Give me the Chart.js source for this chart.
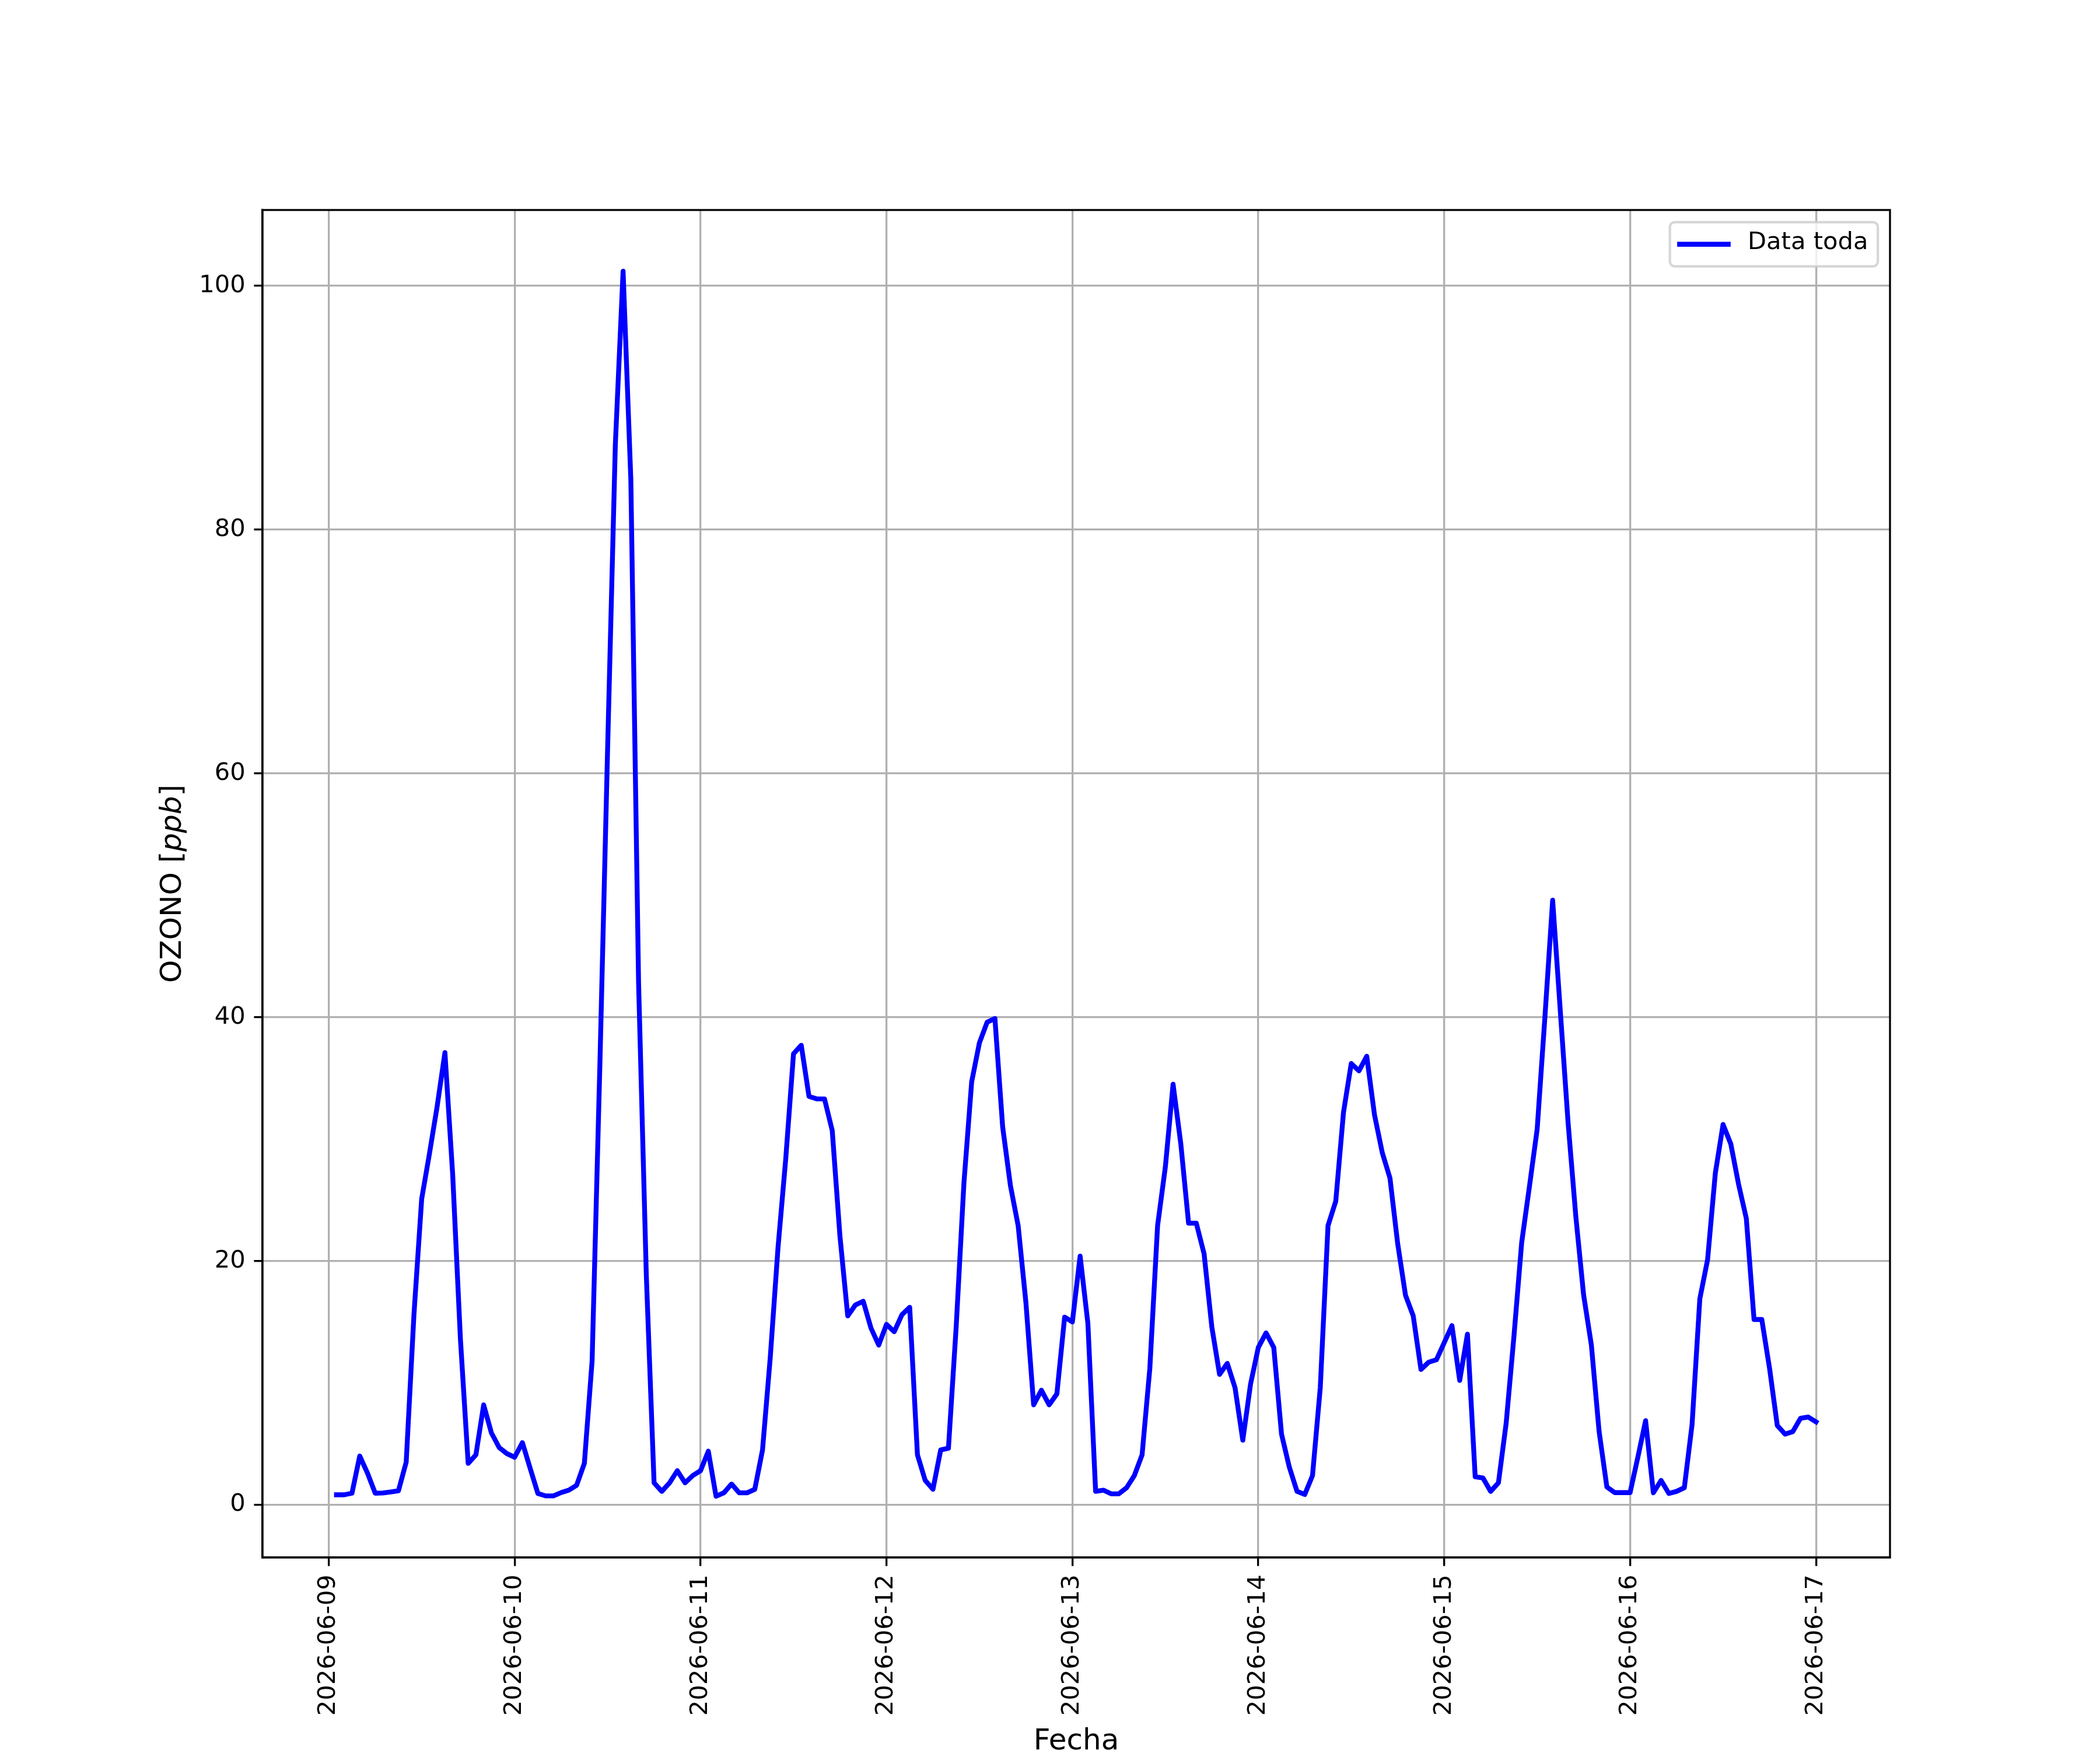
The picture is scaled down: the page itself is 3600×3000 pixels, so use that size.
<!DOCTYPE html>
<html>
<head>
<meta charset="utf-8">
<title>Ozono</title>
<script src="https://cdn.jsdelivr.net/npm/chart.js@4.4.1/dist/chart.umd.min.js"></script>
<style>
  html, body { margin: 0; padding: 0; background: #fff; }
  #wrap { width: 3600px; height: 3000px; }
</style>
</head>
<body>
<div id="wrap"><canvas id="ozonoChart" width="3600" height="3000"></canvas></div>
<script>
// tick labels on the x axis (one per day, midnight)
const dayLabels = ["2026-06-09", "2026-06-10", "2026-06-11", "2026-06-12", "2026-06-13",
                   "2026-06-14", "2026-06-15", "2026-06-16", "2026-06-17"];
const yTickValues = [0, 20, 40, 60, 80, 100];
const seriesLabel = "Data toda";

// hourly ozone [ppb], each row = 01:00 .. 24:00 of that day
const ozono0609 = [0.82, 0.82, 0.95, 4.0, 2.6, 0.95, 0.97, 1.05, 1.15, 3.5, 15.6, 25.1,
                   28.8, 32.7, 37.1, 27.1, 13.6, 3.4, 4.1, 8.2, 5.9, 4.7, 4.2, 3.9];
const ozono0610 = [5.1, 3.0, 0.93, 0.73, 0.73, 1.0, 1.2, 1.6, 3.4, 11.8, 36, 62,
                   87, 101.2, 84.1, 42.8, 18.8, 1.8, 1.1, 1.8, 2.8, 1.8, 2.4, 2.8];
const ozono0611 = [4.4, 0.7, 0.98, 1.7, 0.98, 0.98, 1.27, 4.5, 12.1, 21.1, 28.4, 37.0,
                   37.7, 33.5, 33.3, 33.3, 30.7, 22.0, 15.5, 16.4, 16.7, 14.5, 13.1, 14.8];
const ozono0612 = [14.2, 15.6, 16.2, 4.1, 2.0, 1.27, 4.5, 4.64, 14.6, 26.4, 34.7, 37.9,
                   39.6, 39.9, 31.0, 26.2, 22.9, 16.6, 8.2, 9.4, 8.2, 9.1, 15.4, 15.0];
const ozono0613 = [20.4, 14.9, 1.1, 1.2, 0.9, 0.9, 1.4, 2.4, 4.1, 11.2, 22.9, 27.7,
                   34.5, 29.6, 23.1, 23.1, 20.6, 14.6, 10.7, 11.6, 9.6, 5.3, 9.9, 12.9];
const ozono0614 = [14.1, 12.9, 5.8, 3.1, 1.1, 0.85, 2.4, 9.6, 22.9, 24.9, 32.2, 36.2,
                   35.6, 36.8, 32.0, 28.9, 26.8, 21.4, 17.2, 15.5, 11.1, 11.7, 11.9, 13.3];
const ozono0615 = [14.7, 10.2, 14.0, 2.3, 2.2, 1.1, 1.8, 6.7, 13.8, 21.5, 26.1, 30.8,
                   40.0, 49.6, 40.4, 31.3, 23.6, 17.2, 13.1, 6.0, 1.46, 1.0, 1.0, 1.0];
const ozono0616 = [3.9, 6.9, 0.98, 2.0, 0.93, 1.1, 1.4, 6.6, 16.9, 20.1, 27.2, 31.2,
                   29.6, 26.3, 23.5, 15.2, 15.2, 11.2, 6.5, 5.8, 6.0, 7.1, 7.2, 6.8];

const ozono = [].concat(ozono0609, ozono0610, ozono0611, ozono0612,
                        ozono0613, ozono0614, ozono0615, ozono0616);
// hours since 2026-06-09 00:00
const hours = ozono.map((_, i) => i + 1);
const dayTicks = dayLabels.map((_, i) => i * 24);

const PT = 300 / 72;
const FAMILY = "DejaVu Sans";
const TICK_SIZE = 10 * PT;
const LABEL_SIZE = 12 * PT;

// matplotlib style 5% margins
const xPad = (Math.max(...hours) - Math.min(...hours)) * 0.05;
const yPad = (Math.max(...ozono) - Math.min(...ozono)) * 0.05;

const frame = {
  id: "frame",
  afterDatasetsDraw(chart) {
    const { ctx, chartArea: a } = chart;
    ctx.save();
    ctx.strokeStyle = "#000";
    ctx.lineWidth = 0.8 * PT;
    ctx.strokeRect(a.left, a.top, a.right - a.left, a.bottom - a.top);
    ctx.restore();
  }
};

const yTitle = {
  id: "yTitle",
  afterDraw(chart) {
    const { ctx, chartArea: a } = chart;
    const parts = [["OZONO [", "normal"], ["ppb", "italic"], ["]", "normal"]];
    ctx.save();
    ctx.translate(a.left - 153, (a.top + a.bottom) / 2);
    ctx.rotate(-Math.PI / 2);
    ctx.fillStyle = "#000";
    ctx.textBaseline = "middle";
    ctx.textAlign = "left";
    let total = 0;
    parts.forEach(p => {
      ctx.font = `${p[1]} ${LABEL_SIZE}px ${FAMILY}`;
      total += ctx.measureText(p[0]).width;
    });
    let x = -total / 2;
    parts.forEach(p => {
      ctx.font = `${p[1]} ${LABEL_SIZE}px ${FAMILY}`;
      ctx.fillText(p[0], x, 0);
      x += ctx.measureText(p[0]).width;
    });
    ctx.restore();
  }
};

const boxLegend = {
  id: "boxLegend",
  afterDraw(chart) {
    const { ctx, chartArea: a } = chart;
    const ds = chart.data.datasets[0];
    const fs = TICK_SIZE;
    ctx.save();
    ctx.font = `${fs}px ${FAMILY}`;
    const tw = ctx.measureText(ds.label).width;
    const pad = 0.4 * fs, handle = 2 * fs, gap = 0.8 * fs;
    const w = pad + handle + gap + tw + pad;
    const h = 2 * pad + 1.02 * fs;
    const right = a.right - 0.5 * fs;
    const top = a.top + 0.5 * fs;
    const left = right - w;
    const r = 0.2 * fs;

    ctx.beginPath();
    ctx.roundRect(left, top, w, h, r);
    ctx.fillStyle = "rgba(255,255,255,0.8)";
    ctx.fill();
    ctx.strokeStyle = "rgba(204,204,204,0.8)";
    ctx.lineWidth = 1 * PT;
    ctx.stroke();

    const cy = top + h / 2;
    ctx.beginPath();
    ctx.moveTo(left + pad, cy);
    ctx.lineTo(left + pad + handle, cy);
    ctx.strokeStyle = ds.borderColor;
    ctx.lineWidth = ds.borderWidth;
    ctx.lineCap = "square";
    ctx.stroke();

    ctx.fillStyle = "#000";
    ctx.textAlign = "left";
    ctx.textBaseline = "middle";
    ctx.fillText(ds.label, left + pad + handle + gap, cy - 3);
    ctx.restore();
  }
};

const gridStyle = {
  color: "#b0b0b0",
  lineWidth: 0.8 * PT,
  drawTicks: true,
  tickLength: 3.5 * PT,
  tickColor: "#000",
  tickWidth: 0.8 * PT
};
const borderStyle = { display: true, color: "#000", width: 0.8 * PT };

new Chart(document.getElementById("ozonoChart"), {
  type: "line",
  data: {
    datasets: [
      {
        label: seriesLabel,
        data: hours.map((hr, i) => ({ x: hr, y: ozono[i] })),
        borderColor: "#0000ff",
        borderWidth: 2 * PT,
        borderCapStyle: "square",
        borderJoinStyle: "round",
        pointRadius: 0,
        tension: 0,
        fill: false
      }
    ]
  },
  options: {
    responsive: false,
    maintainAspectRatio: false,
    devicePixelRatio: 1,
    animation: false,
    layout: { padding: { left: 0, top: 360, right: 360, bottom: 0 } },
    plugins: {
      legend: { display: false },
      tooltip: { enabled: false }
    },
    scales: {
      x: {
        type: "linear",
        min: Math.min(...hours) - xPad,
        max: Math.max(...hours) + xPad,
        afterBuildTicks: s => { s.ticks = dayTicks.map(v => ({ value: v })); },
        afterFit: s => { s.height = 330; },
        ticks: {
          autoSkip: false,
          minRotation: 90,
          maxRotation: 90,
          padding: 3.5 * PT,
          color: "#000",
          font: { family: FAMILY, size: TICK_SIZE },
          callback: v => dayLabels[Math.round(v / 24)]
        },
        grid: gridStyle,
        border: borderStyle,
        title: {
          display: true,
          text: "Fecha",
          color: "#000",
          font: { family: FAMILY, size: LABEL_SIZE, lineHeight: 1 },
          padding: { top: 0, bottom: -11 }
        }
      },
      y: {
        min: Math.min(...ozono) - yPad,
        max: Math.max(...ozono) + yPad,
        afterBuildTicks: s => { s.ticks = yTickValues.map(v => ({ value: v })); },
        afterFit: s => { s.width = 450; },
        ticks: {
          padding: 3.5 * PT,
          color: "#000",
          font: { family: FAMILY, size: TICK_SIZE },
          callback: v => String(v)
        },
        grid: gridStyle,
        border: borderStyle
      }
    }
  },
  plugins: [frame, yTitle, boxLegend]
});
</script>
</body>
</html>
